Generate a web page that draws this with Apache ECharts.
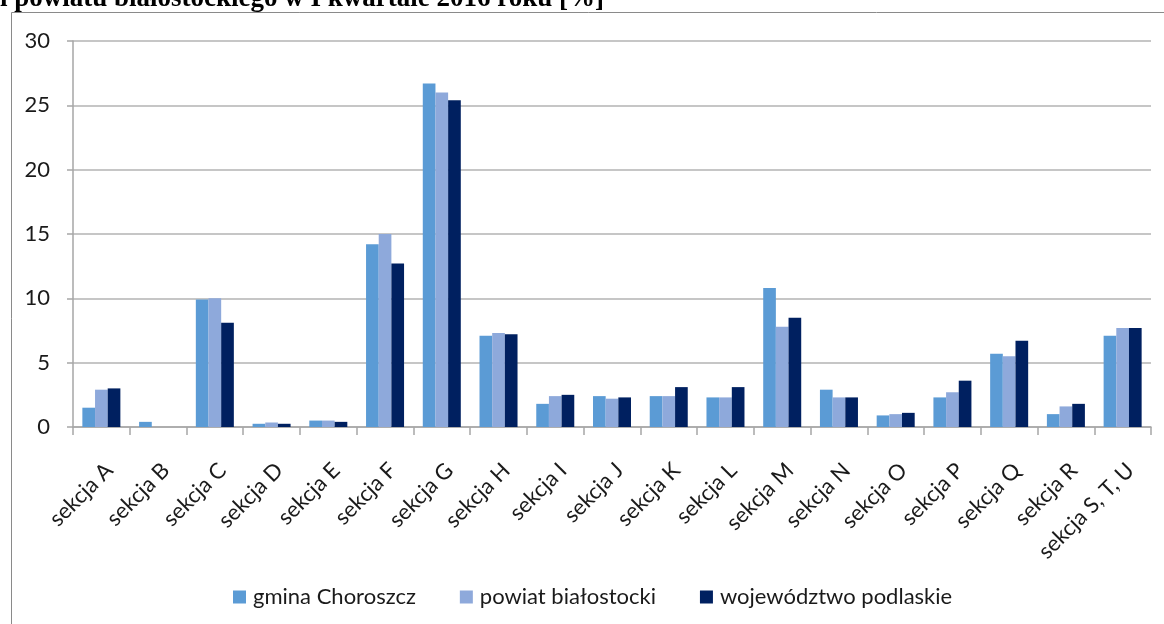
<!DOCTYPE html>
<html>
<head>
<meta charset="utf-8">
<script src="https://cdn.jsdelivr.net/npm/echarts@6/dist/echarts.min.js"></script>
<style>
html,body{margin:0;padding:0;background:#fff;}
#chart{width:1164px;height:624px;}
</style>
</head>
<body>
<div id="chart"></div>
<script>
var titleText = 'i powiatu białostockiego w I kwartale 2016 roku [%]';
var categories = ['sekcja A','sekcja B','sekcja C','sekcja D','sekcja E','sekcja F','sekcja G','sekcja H','sekcja I','sekcja J','sekcja K','sekcja L','sekcja M','sekcja N','sekcja O','sekcja P','sekcja Q','sekcja R','sekcja S, T, U'];
var seriesNames = ['gmina Choroszcz','powiat białostocki','województwo podlaskie'];
var gmina  = [1.5, 0.4, 9.9, 0.25, 0.5, 14.2, 26.7, 7.1, 1.8, 2.4, 2.4, 2.3, 10.8, 2.9, 0.9, 2.3, 5.7, 1.0, 7.1];
var powiat = [2.9, 0,   10.0, 0.35, 0.5, 15.0, 26.0, 7.3, 2.4, 2.2, 2.4, 2.3, 7.8, 2.3, 1.0, 2.7, 5.5, 1.6, 7.7];
var woj    = [3.0, 0,   8.1, 0.25, 0.4, 12.7, 25.4, 7.2, 2.5, 2.3, 3.1, 3.1, 8.5, 2.3, 1.1, 3.6, 6.7, 1.8, 7.7];
var colors = ['#5B9BD5', '#8EA9DB', '#002060'];

var chart = echarts.init(document.getElementById('chart'), null, {renderer: 'canvas'});
var fontFam = 'Lato, "Open Sans", sans-serif';
function mkSeries(name, data, i) {
  return {
    name: name, type: 'bar', data: data,
    barGap: '0%', barCategoryGap: '33%',
    itemStyle: {color: colors[i]},
    animation: false
  };
}
chart.setOption({
  animation: false,
  color: colors,
  graphic: [
    {type: 'rect', shape: {x: 11.5, y: 12.5, width: 1200, height: 700}, style: {fill: 'none', stroke: '#8a8a8a', lineWidth: 1}, z: 0},
    {type: 'text', x: 0, y: -1, style: {text: titleText, font: 'bold 27px "Liberation Serif", serif', fill: '#000', verticalAlign: 'middle'}, z: 10}
  ],
  legend: {
    data: seriesNames,
    left: 228, top: 581,
    itemWidth: 13, itemHeight: 13, itemGap: 44,
    icon: 'rect',
    textStyle: {fontFamily: fontFam, fontSize: 22, color: '#1a1a1a', padding: [0, 0, 0, 2]}
  },
  grid: {left: 73, right: 13, top: 41, bottom: 197, containLabel: false},
  xAxis: {
    type: 'category', data: categories,
    axisLine: {show: true, lineStyle: {color: '#a6a6a6', width: 1.5}},
    axisTick: {show: true, alignWithLabel: false, length: 8, lineStyle: {color: '#a6a6a6', width: 1.5}},
    axisLabel: {interval: 0, rotate: 45, margin: 32, fontFamily: fontFam, fontSize: 22, color: '#1a1a1a', verticalAlign: 'top'}
  },
  yAxis: {
    type: 'value', min: 0, max: 30, interval: 5,
    axisLine: {show: true, lineStyle: {color: '#a6a6a6', width: 1.5}},
    axisTick: {show: true, length: 6, lineStyle: {color: '#a6a6a6', width: 1.5}},
    axisLabel: {margin: 23, fontFamily: fontFam, fontSize: 22, color: '#1a1a1a'},
    splitLine: {show: true, lineStyle: {color: '#b3b3b3', width: 1.5}}
  },
  series: [mkSeries(seriesNames[0], gmina, 0), mkSeries(seriesNames[1], powiat, 1), mkSeries(seriesNames[2], woj, 2)]
});
</script>
</body>
</html>
